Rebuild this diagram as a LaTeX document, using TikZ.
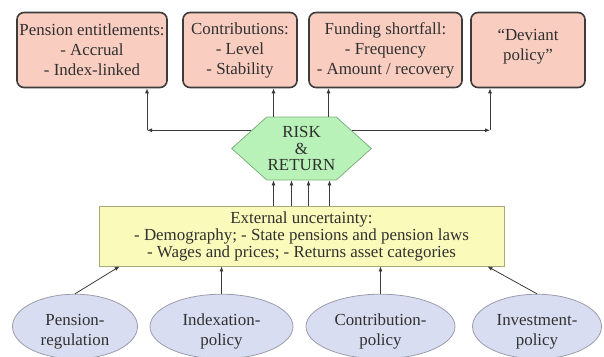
\documentclass[tikz,border=0pt]{standalone}
\usepackage{fontspec}
\setmainfont{Liberation Serif}
\newfontfamily\diagfont{Liberation Serif}
\usetikzlibrary{arrows.meta,positioning,shapes.geometric,shapes.symbols}
\definecolor{boxfill}{HTML}{F9CEC0}
\definecolor{boxline}{HTML}{3C3C3C}
\definecolor{hexfill}{HTML}{B8F2B8}
\definecolor{hexline}{HTML}{80B080}
\definecolor{uncfill}{HTML}{FAFABA}
\definecolor{uncline}{HTML}{A8A878}
\definecolor{polfill}{HTML}{D9DDF1}
\definecolor{polline}{HTML}{9C9CAC}
\definecolor{arrline}{HTML}{3A3A3A}
\definecolor{txt}{HTML}{303030}

\begin{document}
\begin{tikzpicture}[
	x=1pt, y=-1pt,
	>={Latex[length=5pt,width=4pt]},
	outbox/.style={draw=boxline, line width=1.6pt, fill=boxfill, rounded corners=7pt, align=center, minimum height=75pt, inner sep=1pt, text=txt, font=\diagfont\fontsize{16.9}{20}\selectfont},
	riskhex/.style={signal, signal to=west and east, signal pointer angle=84, draw=hexline, line width=0.8pt, fill=hexfill, minimum width=128pt, minimum height=63pt, inner sep=1pt, align=center, text=txt, font=\diagfont\fontsize{16.9}{16.5}\selectfont},
	uncbox/.style={draw=uncline, line width=0.8pt, fill=uncfill, minimum width=405pt, minimum height=60pt, inner sep=1pt, align=center, text=txt, font=\diagfont\fontsize{16.9}{17}\selectfont},
	policy/.style={ellipse, draw=polline, line width=0.8pt, fill=polfill, minimum height=57pt, inner sep=0pt, align=center, text=txt, font=\diagfont\fontsize{16.9}{20}\selectfont},
	link/.style={draw=arrline, line width=0.8pt, ->}
]
\useasboundingbox (0,0) rectangle (604,356);

\node[outbox, minimum width=150pt] (ent) at (92,50) {Pension entitlements:\\- Accrual\\- Index-linked};
\node[outbox, minimum width=114pt] (con) at (240,50) {Contributions:\\- Level\\- Stability};
\node[outbox, minimum width=153pt] (fund) at (385.5,50) {Funding shortfall:\\- Frequency\\- Amount / recovery};
\node[outbox, minimum width=114pt] (dev) at (528,50) {“Deviant\\policy”\rule[-10pt]{0pt}{10pt}};

\node[riskhex] (hex) at (301.5,148.5) {RISK\\\&\\RETURN};

\node[uncbox] (unc) at (301.5,236) {External uncertainty:\\- Demography; - State pensions and pension laws\\- Wages and prices; - Returns asset categories};

\node[policy, minimum width=125pt] (preg) at (75,326.5) {\rule{0pt}{22pt}Pension-\\regulation};
\node[policy, minimum width=143pt] (idx) at (221.5,326.5) {\rule{0pt}{22pt}Indexation-\\policy};
\node[policy, minimum width=149pt] (cpol) at (380.5,326.5) {\rule{0pt}{22pt}Contribution-\\policy};
\node[policy, minimum width=129pt] (ipol) at (537,326.5) {\rule{0pt}{22pt}Investment-\\policy};

\coordinate (lc) at (147,132);
\coordinate (rc) at (490,132);

\draw[link] (hex.160) -- (hex.160 -| lc);
\draw[link] (hex.160 -| lc) -- (lc |- ent.south);
\draw[link] (hex.20) -- (hex.20 -| rc);
\draw[link] (hex.20 -| rc) -- (rc |- dev.south);
\draw[link] ([xshift=-28pt]hex.north) -- ([xshift=-28pt]hex.north |- con.south);
\draw[link] ([xshift=27pt]hex.north) -- ([xshift=27pt]hex.north |- fund.south);

\foreach \dx in {-28,-10,7,28}
	\draw[link] ([xshift=\dx pt]unc.north) -- ([xshift=\dx pt]hex.south);

\draw[link] (preg.north) -- ([xshift=21pt]unc.south west);
\draw[link] (idx.north) -- (idx.north |- unc.south);
\draw[link] (cpol.north) -- (cpol.north |- unc.south);
\draw[link] (ipol.north) -- ([xshift=-17pt]unc.south east);
\end{tikzpicture}
\end{document}
